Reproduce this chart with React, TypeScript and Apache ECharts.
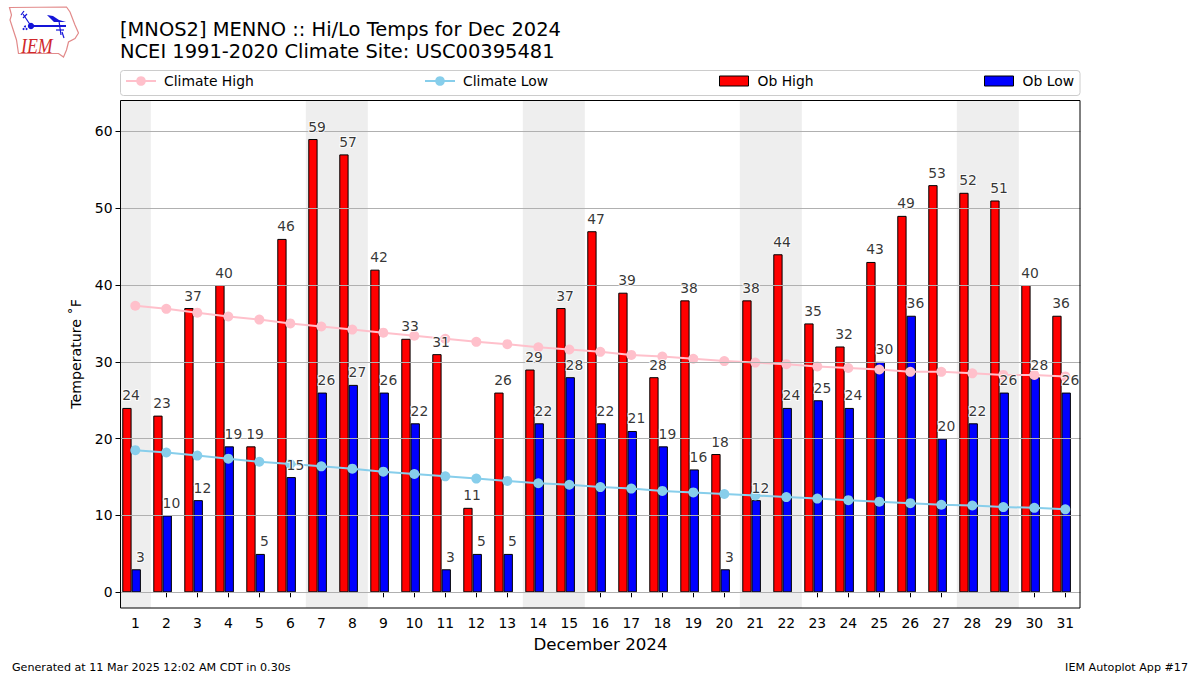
import React, { useEffect, useRef } from "react";
import * as echarts from "echarts";

const days = Array.from({ length: 31 }, (_, i) => i + 1);
const obHigh = [24, 23, 37, 40, 19, 46, 59, 57, 42, 33, 31, 11, 26, 29, 37, 47, 39, 28, 38, 18, 38, 44, 35, 32, 43, 49, 53, 52, 51, 40, 36];
const obLow = [3, 10, 12, 19, 5, 15, 26, 27, 26, 22, 3, 5, 5, 22, 28, 22, 21, 19, 16, 3, 12, 24, 25, 24, 30, 36, 20, 22, 26, 28, 26];
const climateHigh = [37.3, 36.9, 36.4, 35.9, 35.5, 35.0, 34.6, 34.2, 33.8, 33.4, 33.0, 32.6, 32.3, 31.9, 31.6, 31.3, 30.9, 30.7, 30.4, 30.1, 29.9, 29.7, 29.4, 29.2, 29.0, 28.7, 28.7, 28.5, 28.3, 28.3, 28.1];
const climateLow = [18.5, 18.2, 17.8, 17.4, 17.0, 16.7, 16.4, 16.1, 15.7, 15.4, 15.1, 14.8, 14.5, 14.2, 14.0, 13.7, 13.5, 13.2, 13.0, 12.8, 12.6, 12.4, 12.2, 12.0, 11.8, 11.6, 11.4, 11.3, 11.1, 11.0, 10.8];
const weekendBands = [[0.5, 1.5], [6.5, 8.5], [13.5, 15.5], [20.5, 22.5], [27.5, 29.5]];
const yTicks = [0, 10, 20, 30, 40, 50, 60];

const FONT = "DejaVu Sans";
const PAIR_SHIFT = -0.12;
const BAR = 0.3;

const legendItem = (name: string, left: number, bar: boolean) => ({
  data: bar ? [{ name, icon: "rect", itemStyle: { borderWidth: 1, borderColor: "#000", borderJoin: "miter" } }] : [name],
  left,
  top: 74,
  padding: 0,
  itemWidth: bar ? 29 : 30,
  itemHeight: bar ? 10 : 12,
  itemGap: 0,
  selectedMode: false,
  textStyle: { fontFamily: FONT, fontSize: 13.9, color: "#000", padding: [0, 0, 0, bar ? 4 : 3] },
});

const labelSeries = (name: string, values: number[], offset: number) => ({
  type: "scatter",
  name,
  z: 10,
  silent: true,
  symbolSize: 1,
  clip: false,
  itemStyle: { color: "transparent" },
  data: values.map((v, i) => [days[i] + offset, v]),
  label: {
    show: true,
    position: [0, -5],
    align: "center",
    verticalAlign: "bottom",
    fontFamily: FONT,
    fontSize: 13.9,
    color: "#000",
    textBorderColor: "#fff",
    textBorderWidth: 2,
    formatter: (p: any) => String(p.value[1]),
  },
});

const logo = [
  { type: "polygon", shape: { points: [[9.5, 7.5], [66.5, 7], [70, 12], [75, 25], [78.5, 33], [75, 38.5], [68.5, 42], [66.5, 50], [63.5, 57], [58.5, 53.5], [18.5, 53.5], [16.5, 40], [10, 20], [11.5, 15]] }, style: { fill: "#fff", stroke: "#e28a8a", lineWidth: 1.2 } },
  { type: "polyline", shape: { points: [[31, 26], [66, 26]] }, style: { stroke: "#1414d8", lineWidth: 2, fill: "none" } },
  { type: "circle", shape: { cx: 31, cy: 26, r: 3.2 }, style: { fill: "#1414d8" } },
  { type: "polyline", shape: { points: [[31, 26], [23, 14]] }, style: { stroke: "#1414d8", lineWidth: 1.2, fill: "none" } },
  { type: "polyline", shape: { points: [[21, 15], [24, 11]] }, style: { stroke: "#1414d8", lineWidth: 1.2, fill: "none" } },
  { type: "polyline", shape: { points: [[23, 18], [27, 14]] }, style: { stroke: "#1414d8", lineWidth: 1.2, fill: "none" } },
  { type: "polygon", shape: { points: [[47, 15], [53, 16], [59, 20], [66, 22], [54, 22]] }, style: { fill: "#1414d8" } },
  { type: "polyline", shape: { points: [[59, 21], [61, 35]] }, style: { stroke: "#1414d8", lineWidth: 1.2, fill: "none" } },
  { type: "polyline", shape: { points: [[56, 30], [64, 30]] }, style: { stroke: "#1414d8", lineWidth: 1.2, fill: "none" } },
  { type: "polyline", shape: { points: [[62, 32], [64, 38]] }, style: { stroke: "#1414d8", lineWidth: 1.2, fill: "none" } },
  { type: "circle", shape: { cx: 23.5, cy: 29, r: 1 }, style: { fill: "#1414d8" } },
  { type: "circle", shape: { cx: 26.5, cy: 29, r: 1 }, style: { fill: "#1414d8" } },
  { type: "circle", shape: { cx: 25, cy: 26.5, r: 1 }, style: { fill: "#1414d8" } },
  { type: "text", x: 21, y: 35, scaleX: 0.85, style: { text: "IEM", fontFamily: "Liberation Serif", fontStyle: "italic", fontSize: 21, fill: "#d0282c" } },
];

export default function App() {
  const ref = useRef<HTMLDivElement>(null);
  useEffect(() => {
    document.body.style.margin = "0";
    const chart = echarts.init(ref.current!, null, { renderer: "svg" });
    chart.setOption({
      animation: false,
      backgroundColor: "#fff",
      title: {
        text: "[MNOS2] MENNO :: Hi/Lo Temps for Dec 2024\nNCEI 1991-2020 Climate Site: USC00395481",
        left: 120,
        top: 18,
        padding: 0,
        textStyle: { fontFamily: FONT, fontSize: 19.45, fontWeight: "normal", color: "#000", lineHeight: 22 },
      },
      legend: [
        legendItem("Climate High", 125, false),
        legendItem("Climate Low", 424, false),
        legendItem("Ob High", 719, true),
        legendItem("Ob Low", 984, true),
      ],
      grid: { left: 120.5, top: 100, width: 960, height: 508, containLabel: false },
      xAxis: {
        type: "value",
        min: 0.5224,
        max: 31.49,
        name: "December 2024",
        nameLocation: "middle",
        nameGap: 28,
        nameTextStyle: { fontFamily: FONT, fontSize: 16.67, color: "#000" },
        splitLine: { show: false },
        axisLine: { show: false },
        axisTick: { show: true, length: 5, customValues: days, lineStyle: { color: "#000", width: 1 } },
        axisLabel: { customValues: days, margin: 7.5, fontFamily: FONT, fontSize: 13.9, color: "#000" },
      },
      yAxis: {
        type: "value",
        min: -2.04,
        max: 64.08,
        name: "Temperature ˚F",
        nameLocation: "middle",
        nameGap: 38,
        nameTextStyle: { fontFamily: FONT, fontSize: 14.2, color: "#000" },
        splitLine: { show: false },
        axisLine: { show: false },
        axisTick: { show: true, length: 5, customValues: yTicks, lineStyle: { color: "#000", width: 1 } },
        axisLabel: { customValues: yTicks, margin: 8, fontFamily: FONT, fontSize: 13.9, color: "#000" },
      },
      series: [
        {
          type: "custom",
          name: "Weekend",
          z: 1,
          silent: true,
          clip: true,
          data: weekendBands,
          encode: { x: [0, 1] },
          renderItem: (params: any, api: any) => {
            const a = api.coord([api.value(0), 64.08]);
            const b = api.coord([api.value(1), -2.04]);
            const rect = echarts.graphic.clipRectByRect(
              { x: a[0], y: a[1], width: b[0] - a[0], height: b[1] - a[1] },
              params.coordSys
            );
            return rect && { type: "rect", shape: rect, style: { fill: "#eeeeee" } };
          },
          markLine: {
            silent: true,
            symbol: "none",
            label: { show: false },
            lineStyle: { color: "#b0b0b0", width: 1, type: "solid" },
            data: yTicks.map((v) => ({ yAxis: v })),
          },
        },
        {
          type: "bar",
          name: "Ob High",
          z: 2,
          barWidth: BAR * 30.99,
          barGap: 0,
          itemStyle: { color: "#ff0000", borderColor: "#000", borderWidth: 1 },
          data: obHigh.map((v, i) => [days[i] + PAIR_SHIFT, v]),
        },
        {
          type: "bar",
          name: "Ob Low",
          z: 2,
          barWidth: BAR * 30.99,
          barGap: 0,
          itemStyle: { color: "#0000ff", borderColor: "#000", borderWidth: 1 },
          data: obLow.map((v, i) => [days[i] + PAIR_SHIFT, v]),
        },
        {
          type: "line",
          name: "Climate High",
          z: 3,
          symbol: "circle",
          symbolSize: 10,
          showSymbol: true,
          lineStyle: { color: "#ffc0cb", width: 2 },
          itemStyle: { color: "#ffc0cb" },
          data: climateHigh.map((v, i) => [days[i], v]),
        },
        {
          type: "line",
          name: "Climate Low",
          z: 3,
          symbol: "circle",
          symbolSize: 10,
          showSymbol: true,
          lineStyle: { color: "#87ceeb", width: 2 },
          itemStyle: { color: "#87ceeb" },
          data: climateLow.map((v, i) => [days[i], v]),
        },
        labelSeries("High labels", obHigh, PAIR_SHIFT),
        labelSeries("Low labels", obLow, PAIR_SHIFT + BAR),
      ],
      graphic: [
        { type: "rect", z: 0, shape: { x: 120.5, y: 70.5, width: 959.5, height: 25, r: 3 }, style: { fill: "#fff", stroke: "#cccccc", lineWidth: 1 } },
        { type: "rect", z: 20, shape: { x: 120.5, y: 100.5, width: 959.5, height: 507.5 }, style: { fill: "none", stroke: "#000", lineWidth: 1 } },
        ...logo.map((e) => ({ ...e, z: 5 })),
        { type: "text", z: 5, x: 12, y: 661.5, style: { text: "Generated at 11 Mar 2025 12:02 AM CDT in 0.30s", fontFamily: FONT, fontSize: 11.13, fill: "#000" } },
        { type: "text", z: 5, x: 1188, y: 661.5, style: { text: "IEM Autoplot App #17", textAlign: "right", fontFamily: FONT, fontSize: 11.13, fill: "#000" } },
      ],
    });
    return () => chart.dispose();
  }, []);
  return <div ref={ref} style={{ width: 1200, height: 675, overflow: "hidden" }} />;
}
